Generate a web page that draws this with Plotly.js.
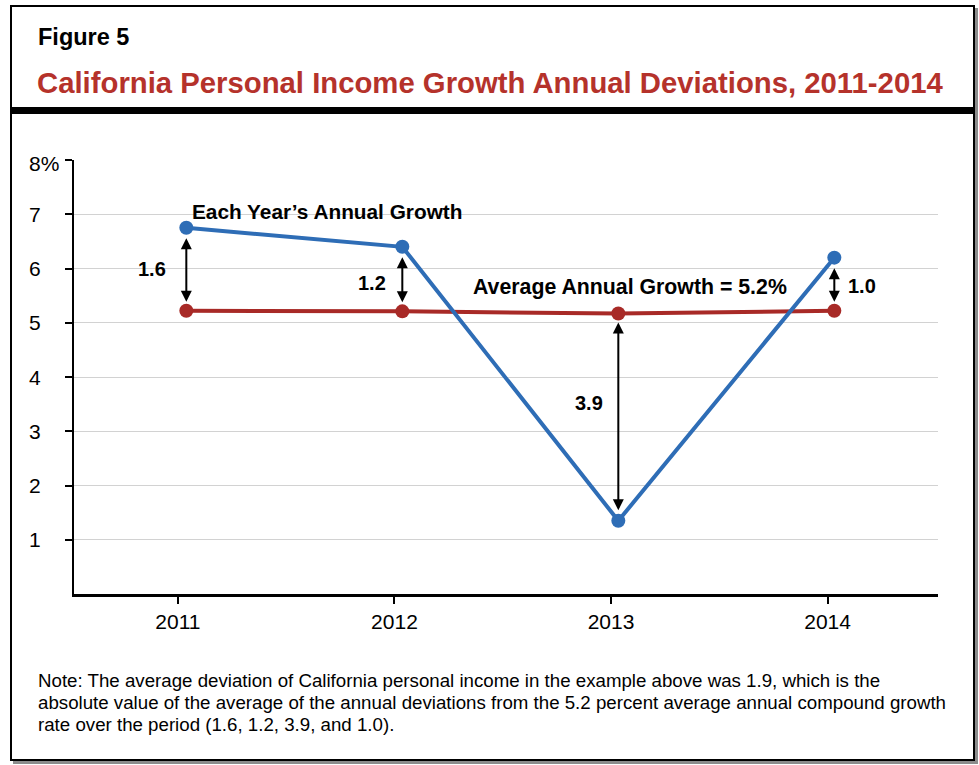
<!DOCTYPE html>
<html>
<head>
<meta charset="utf-8">
<script src="https://cdn.plot.ly/plotly-3.0.1.min.js"></script>
<style>
  html, body { margin: 0; padding: 0; background: #ffffff; }
  #wrap { position: relative; width: 979px; height: 765px; overflow: hidden; }
  #frame { position: absolute; left: 10px; top: 5px; width: 961px; height: 752px;
           border: 2px solid #000; box-shadow: 3px 3px 0 #8c8c8c; background: #fff; }
  #bar { position: absolute; left: 10px; top: 107px; width: 965px; height: 7px; background: #000; }
  #chart { position: absolute; left: 0; top: 0; width: 979px; height: 765px; }
</style>
</head>
<body>
<div id="wrap">
  <div id="frame"></div>
  <div id="bar"></div>
  <div id="chart"></div>
</div>
<script>
// ---- data ----
const years = ['2011', '2012', '2013', '2014'];
const annualGrowth = [6.75, 6.40, 1.35, 6.20];      // Each Year's Annual Growth
const averageGrowth = [5.22, 5.21, 5.17, 5.22];     // Average Annual Growth = 5.2%
const deviationLabels = ['1.6', '1.2', '3.9', '1.0'];
const yTickVals = [1, 2, 3, 4, 5, 6, 7, 8];
const yTickText = ['1', '2', '3', '4', '5', '6', '7', '8%'];
const noteLines = [
  'Note: The average deviation of California personal income in the example above was 1.9, which is the',
  'absolute value of the average of the annual deviations from the 5.2 percent average annual compound growth',
  'rate over the period (1.6, 1.2, 3.9, and 1.0).'
];

const FONT = 'Liberation Sans, Arial, Helvetica, sans-serif';
const BLUE = '#2e6db6';
const RED = '#a82a27';

// pixel -> paper helpers (plot area: x 74..938, y 160..594)
const px = p => (p - 74) / 864;
const py = p => (594 - p) / 434;

const traces = [
  {
    x: years, y: averageGrowth, xaxis: 'x', yaxis: 'y',
    type: 'scatter', mode: 'lines+markers',
    line: { color: RED, width: 4 },
    marker: { color: RED, size: 14 },
    hoverinfo: 'skip', showlegend: false
  },
  {
    x: years, y: annualGrowth, xaxis: 'x', yaxis: 'y',
    type: 'scatter', mode: 'lines+markers',
    line: { color: BLUE, width: 4 },
    marker: { color: BLUE, size: 14 },
    hoverinfo: 'skip', showlegend: false
  },
  // empty helper trace so the category tick axis (x2) is built
  {
    x: years, y: years.map(() => null), xaxis: 'x2', yaxis: 'y',
    type: 'scatter', mode: 'markers', hoverinfo: 'skip', showlegend: false
  }
];

const annotations = [];

// deviation arrows and labels (category axis positions are serial indices)
const labelShift = [[-34, 0], [-30, -4], [-29, 14], [28, -2]];
years.forEach((yr, i) => {
  annotations.push({
    xref: 'x', yref: 'y', axref: 'x', ayref: 'y',
    x: i, y: averageGrowth[i], ax: i, ay: annualGrowth[i],
    text: '', showarrow: true, arrowside: 'end+start',
    arrowhead: 2, startarrowhead: 2, arrowsize: 1.1, startarrowsize: 1.1,
    arrowwidth: 2, arrowcolor: '#000',
    standoff: 9, startstandoff: 9
  });
  annotations.push({
    xref: 'x', yref: 'y', x: i, y: (annualGrowth[i] + averageGrowth[i]) / 2,
    text: '<b>' + deviationLabels[i] + '</b>', showarrow: false,
    xshift: labelShift[i][0], yshift: labelShift[i][1],
    font: { family: FONT, size: 20, color: '#000' }
  });
});

// series labels
annotations.push({
  xref: 'x', yref: 'y', x: 0, y: 7.06, xanchor: 'left', xshift: 4,
  text: '<b>Each Year\u2019s Annual Growth</b>', showarrow: false,
  font: { family: FONT, size: 20.8, color: '#000' }
});
annotations.push({
  xref: 'x', yref: 'y', x: 2, y: 5.65, xanchor: 'center', xshift: 12,
  text: '<b>Average Annual Growth = 5.2%</b>', showarrow: false,
  font: { family: FONT, size: 21.3, color: '#000' }
});

// left-aligned y tick labels
yTickVals.forEach((v, i) => {
  annotations.push({
    xref: 'paper', yref: 'y', x: px(27), y: v, xanchor: 'left',
    yshift: (i === yTickVals.length - 1) ? -3 : 0,
    text: yTickText[i], showarrow: false,
    font: { family: FONT, size: 21, color: '#000' }
  });
});

// figure label
annotations.push({
  xref: 'paper', yref: 'paper', x: px(36), y: py(37), xanchor: 'left', yanchor: 'middle',
  text: '<b>Figure 5</b>', showarrow: false,
  font: { family: FONT, size: 23.5, color: '#000' }
});

// note lines
noteLines.forEach((t, i) => {
  annotations.push({
    xref: 'paper', yref: 'paper', x: px(36), y: py(680 + 22 * i), xanchor: 'left', yanchor: 'middle',
    text: t, showarrow: false,
    font: { family: FONT, size: 18.7, color: '#000' }
  });
});

const layout = {
  width: 979, height: 765,
  margin: { l: 74, r: 41, t: 160, b: 171, pad: 0 },
  paper_bgcolor: 'rgba(0,0,0,0)', plot_bgcolor: 'rgba(0,0,0,0)',
  font: { family: FONT, color: '#000' },
  title: {
    text: '<b>California Personal Income Growth Annual Deviations, 2011-2014</b>',
    x: 37 / 979, xref: 'container', xanchor: 'left',
    y: 1 - 83 / 765, yref: 'container', yanchor: 'middle',
    font: { family: FONT, size: 29.3, color: '#b5322b' }
  },
  xaxis: {
    type: 'category', categoryarray: years, range: [-0.52, 3.48],
    showline: false, ticks: '', showticklabels: false,
    showgrid: false, zeroline: false, fixedrange: true
  },
  xaxis2: {
    type: 'category', categoryarray: years, range: [-0.48, 3.51],
    overlaying: 'x', anchor: 'y', side: 'bottom',
    showline: true, linecolor: '#000', linewidth: 2.5,
    ticks: 'outside', ticklen: 7, tickwidth: 2, tickcolor: '#000',
    showgrid: false, zeroline: false,
    tickfont: { family: FONT, size: 21, color: '#000' },
    fixedrange: true
  },
  yaxis: {
    range: [0, 8], tickvals: yTickVals, showticklabels: false,
    showline: true, linecolor: '#000', linewidth: 2.5,
    ticks: 'outside', ticklen: 7, tickwidth: 2, tickcolor: '#000',
    showgrid: true, gridcolor: '#d2d2d2', gridwidth: 1,
    zeroline: false, fixedrange: true
  },
  annotations: annotations,
  showlegend: false
};

Plotly.newPlot('chart', traces, layout, { staticPlot: true, displayModeBar: false });
</script>
</body>
</html>
